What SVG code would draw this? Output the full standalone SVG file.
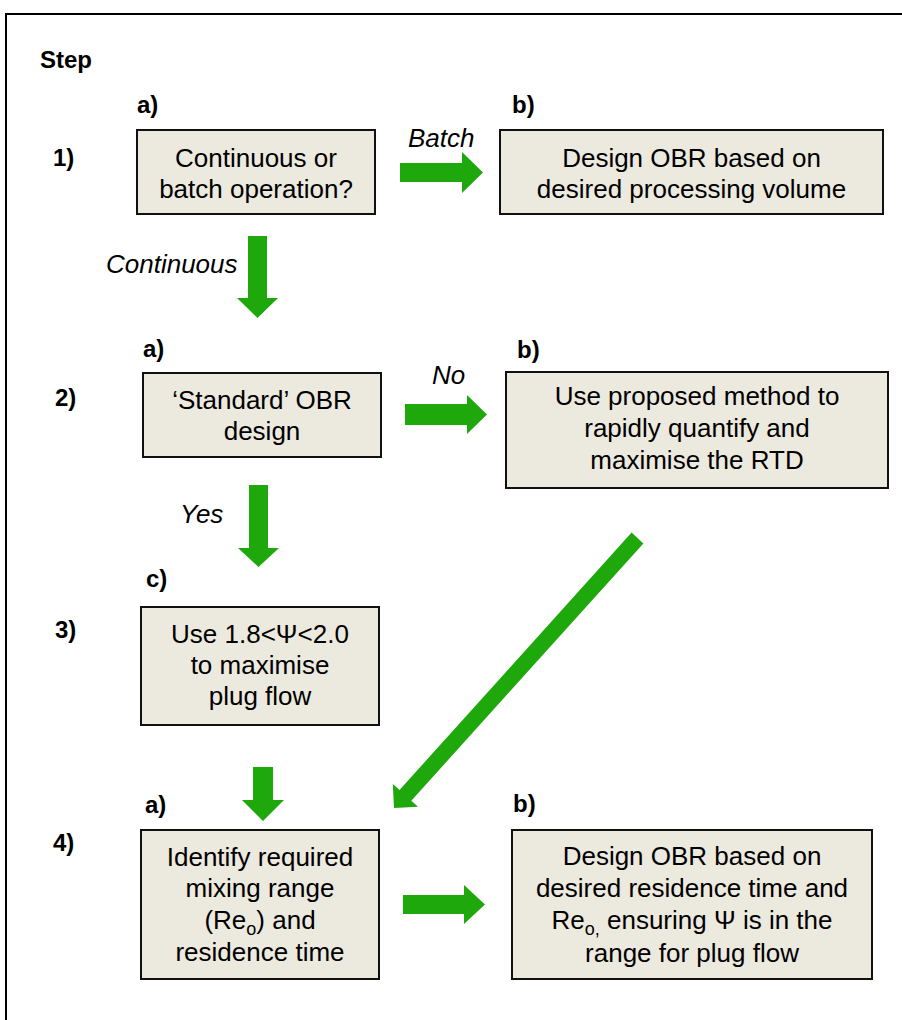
<svg xmlns="http://www.w3.org/2000/svg" width="902" height="1020" viewBox="0 0 902 1020">
<style>
.frame{fill:none;stroke:#000;stroke-width:2}
.box{fill:#ECE9DF;stroke:#111;stroke-width:2}
.arr{fill:#1FA80C}
.t{font-family:"Liberation Sans",Arial,sans-serif;font-size:26px;fill:#000;text-anchor:middle}
.lbl{font-family:"Liberation Sans",Arial,sans-serif;font-size:24px;font-weight:bold;fill:#000}
.it{font-family:"Liberation Sans",Arial,sans-serif;font-size:26px;font-style:italic;fill:#000}
.sub{font-size:18px}
</style>
<rect class="frame" x="6" y="14" width="1000" height="1100"/>
<g id="labels">
<text class="lbl" x="40" y="68">Step</text>
<text class="lbl" x="53" y="166">1)</text>
<text class="lbl" x="55" y="406">2)</text>
<text class="lbl" x="55" y="638">3)</text>
<text class="lbl" x="53" y="851">4)</text>
<text class="lbl" x="137" y="113">a)</text>
<text class="lbl" x="512" y="113">b)</text>
<text class="lbl" x="143" y="357">a)</text>
<text class="lbl" x="517" y="358">b)</text>
<text class="lbl" x="146" y="587">c)</text>
<text class="lbl" x="145" y="813">a)</text>
<text class="lbl" x="513" y="812">b)</text>
</g>
<g id="connectors">
<polygon class="arr" points="400,163 462,163 462,152 483,172.5 462,193 462,182 400,182"/>
<text class="it" x="408" y="147">Batch</text>
<polygon class="arr" points="248,236 267,236 267,298 278,298 257.5,318 237,298 248,298"/>
<text class="it" x="106" y="273">Continuous</text>
<polygon class="arr" points="405,404 467,404 467,395 487,414.5 467,434 467,425 405,425"/>
<text class="it" x="432" y="384">No</text>
<polygon class="arr" points="249,485 268,485 268,548 279,548 258.5,567 238,548 249,548"/>
<text class="it" x="180" y="523">Yes</text>
<polygon class="arr" points="631.6,532.6 643.4,543.4 411.3,800.8 418,806.8 394,808 392.8,784 399.5,790"/>
<polygon class="arr" points="253,767 273,767 273,800 284,800 263,821 242,800 253,800"/>
<polygon class="arr" points="403,895 464,895 464,885 485,904.5 464,924 464,914 403,914"/>
</g>
<g id="n1a">
<rect class="box" x="137" y="130" width="238" height="84"/>
<text class="t" x="256" y="167">Continuous or</text>
<text class="t" x="256" y="198">batch operation?</text>
</g>
<g id="n1b">
<rect class="box" x="500" y="130" width="383" height="84"/>
<text class="t" x="691.5" y="167">Design OBR based on</text>
<text class="t" x="691.5" y="198">desired processing volume</text>
</g>
<g id="n2a">
<rect class="box" x="143" y="373" width="238" height="84"/>
<text class="t" x="262" y="409">‘Standard’ OBR</text>
<text class="t" x="262" y="440">design</text>
</g>
<g id="n2b">
<rect class="box" x="506" y="372" width="382" height="116"/>
<text class="t" x="697" y="405">Use proposed method to</text>
<text class="t" x="697" y="437">rapidly quantify and</text>
<text class="t" x="697" y="469">maximise the RTD</text>
</g>
<g id="n3c">
<rect class="box" x="141" y="607" width="238" height="118"/>
<text class="t" x="260" y="643">Use 1.8&lt;Ψ&lt;2.0</text>
<text class="t" x="260" y="674">to maximise</text>
<text class="t" x="260" y="705">plug flow</text>
</g>
<g id="n4a">
<rect class="box" x="141" y="830" width="238" height="149"/>
<text class="t" x="260" y="866">Identify required</text>
<text class="t" x="260" y="897">mixing range</text>
<text class="t" x="260" y="929">(Re<tspan class="sub" dy="6">o</tspan><tspan dy="-6">) and</tspan></text>
<text class="t" x="260" y="961">residence time</text>
</g>
<g id="n4b">
<rect class="box" x="512" y="830" width="360" height="149"/>
<text class="t" x="692" y="865">Design OBR based on</text>
<text class="t" x="692" y="897">desired residence time and</text>
<text class="t" x="692" y="929">Re<tspan class="sub" dy="6">o,</tspan><tspan dy="-6"> ensuring Ψ is in the</tspan></text>
<text class="t" x="692" y="962">range for plug flow</text>
</g>
</svg>
